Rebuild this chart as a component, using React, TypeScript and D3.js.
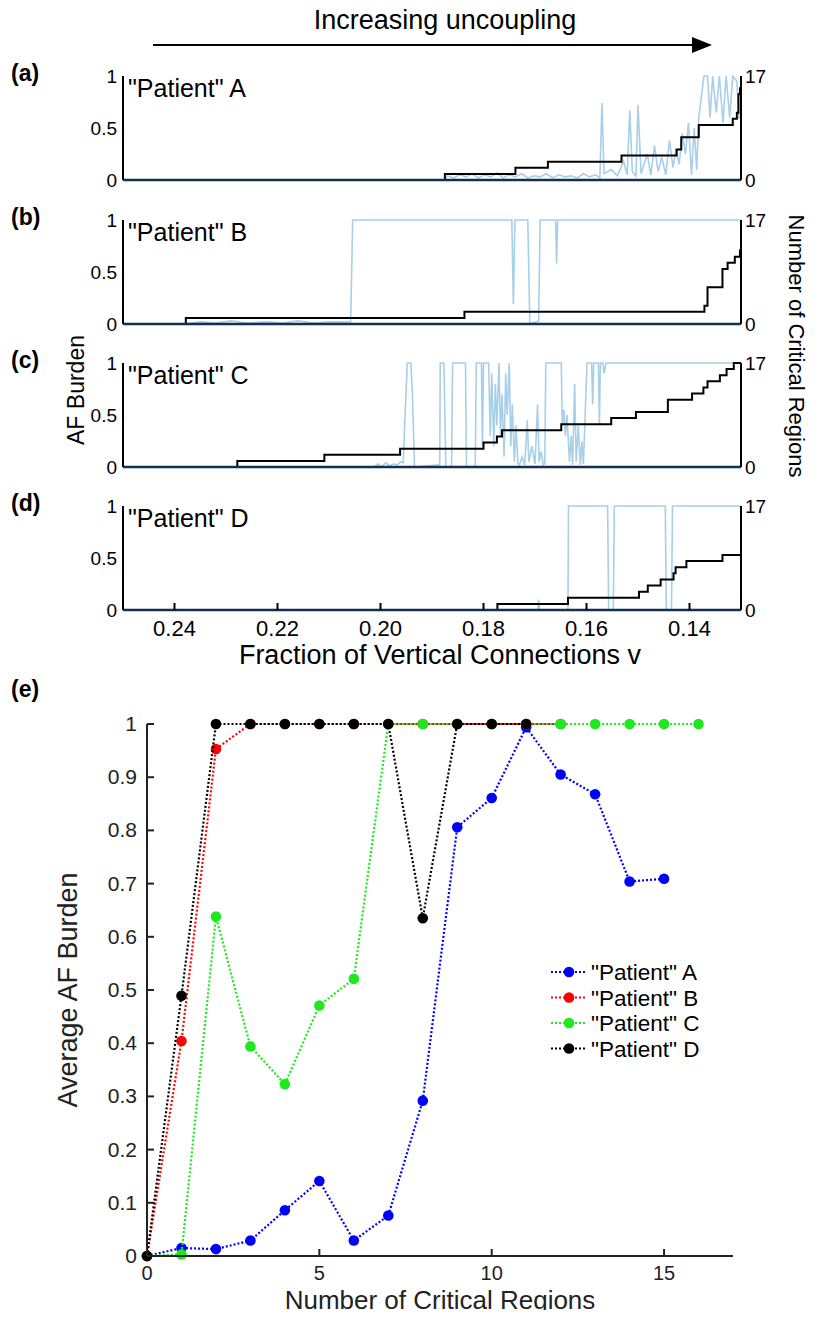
import React from "react";
import * as d3 from "d3";

// ---- data ----
const patients = ["A", "B", "C", "D"];
const panelTags = ["(a)", "(b)", "(c)", "(d)"];
const vTicks = [0.24, 0.22, 0.2, 0.18, 0.16, 0.14];
const leftTicks = [0, 0.5, 1];
const rightTicks = [0, 17];

// AF burden traces [v, burden]
const burdenA = [
  [0.25, 0], [0.1876, 0], [0.187, 0.04], [0.1858, 0.02], [0.1846, 0.05], [0.1834, 0.03], [0.1822, 0.06],
  [0.181, 0.02], [0.1798, 0.05], [0.1786, 0.03], [0.1774, 0.07], [0.1762, 0.02], [0.175, 0.05], [0.1738, 0.03],
  [0.1726, 0.06], [0.1714, 0.02], [0.1702, 0.04], [0.169, 0.03], [0.1678, 0.06], [0.1666, 0.02], [0.1654, 0.05],
  [0.1642, 0.03], [0.163, 0.04], [0.1618, 0.02], [0.1606, 0.06], [0.1594, 0.03], [0.1582, 0.05], [0.1574, 0.02],
  [0.157, 0.74], [0.1566, 0.06], [0.1552, 0.1], [0.154, 0.04], [0.1528, 0.18], [0.1521, 0.05], [0.1516, 0.67],
  [0.1511, 0.08], [0.1504, 0.04], [0.15, 0.72], [0.1494, 0.06], [0.1482, 0.25], [0.1475, 0.05], [0.1468, 0.33],
  [0.1461, 0.08], [0.1454, 0.22], [0.1446, 0.05], [0.1439, 0.38], [0.1432, 0.12], [0.1426, 0.3], [0.142, 0.15],
  [0.1414, 0.45], [0.1408, 0.25], [0.1402, 0.55], [0.1396, 0.05], [0.1391, 0.5], [0.1386, 0.1], [0.1382, 0.6],
  [0.1377, 0.8], [0.1372, 1], [0.1365, 1], [0.136, 0.6], [0.1355, 1], [0.1348, 0.65], [0.1342, 1], [0.1335, 0.55],
  [0.1329, 1], [0.1322, 0.6], [0.1316, 1], [0.1308, 0.95], [0.1304, 0.6], [0.13, 0.62],
];
const burdenB = [
  [0.25, 0], [0.238, 0], [0.235, 0.02], [0.232, 0.01], [0.229, 0.03], [0.226, 0.01], [0.222, 0.02], [0.219, 0.01],
  [0.216, 0.03], [0.213, 0.01], [0.21, 0.02], [0.2058, 0.02], [0.2054, 1], [0.1745, 1], [0.1742, 0.19],
  [0.1739, 1], [0.1714, 1], [0.171, 0], [0.1693, 0.03], [0.169, 1], [0.166, 1], [0.1658, 0.58], [0.1656, 1],
  [0.13, 1],
];
const burdenC = [
  [0.25, 0], [0.2012, 0], [0.2005, 0.03], [0.1998, 0], [0.199, 0.04], [0.1982, 0.01], [0.1975, 0.03],
  [0.1968, 0.02], [0.196, 0.05], [0.1956, 0.04], [0.1948, 1], [0.1941, 1], [0.1938, 0.7], [0.1934, 0],
  [0.1885, 0.02], [0.1884, 1], [0.1877, 1], [0.1875, 0.5], [0.1873, 0], [0.1862, 0], [0.186, 1], [0.1835, 1],
  [0.1833, 0], [0.1816, 0], [0.1814, 1], [0.1804, 1], [0.1802, 0.2], [0.18, 1], [0.179, 1], [0.1787, 0.3],
  [0.1784, 0.9], [0.178, 0.2], [0.1777, 0.8], [0.1774, 0.4], [0.177, 1], [0.1767, 0.3], [0.1764, 0.7],
  [0.176, 0.1], [0.1757, 0.9], [0.1754, 0.5], [0.175, 1], [0.1747, 0.2], [0.1744, 0.6], [0.174, 0.05],
  [0.1737, 0.4], [0.1733, 0.03], [0.173, 0.02], [0.1725, 0.1], [0.172, 0.02], [0.1715, 0.45], [0.1712, 0.05],
  [0.1706, 0.2], [0.17, 0.03], [0.1695, 0.6], [0.1692, 0.05], [0.1688, 0.15], [0.1684, 0.02], [0.1681, 0.03],
  [0.1679, 1], [0.1649, 1], [0.1647, 0.4], [0.1644, 0.55], [0.1641, 0.3], [0.1638, 0.5], [0.1633, 0.05],
  [0.163, 0.3], [0.1627, 0.02], [0.1623, 0.8], [0.162, 0.05], [0.1616, 0.4], [0.1612, 0.02], [0.1609, 0.25],
  [0.1606, 0.03], [0.1599, 1], [0.159, 1], [0.1588, 0.6], [0.1586, 1], [0.1577, 1], [0.1575, 0.4], [0.1573, 1],
  [0.1568, 1], [0.1566, 0.9], [0.1562, 1], [0.13, 1],
];
const burdenD = [
  [0.25, 0], [0.1695, 0], [0.1693, 0.1], [0.1691, 0], [0.1636, 0], [0.1635, 1], [0.1559, 1], [0.1557, 0],
  [0.1548, 0], [0.1546, 1], [0.1447, 1], [0.1445, 0], [0.1435, 0], [0.1433, 1], [0.13, 1],
];

// number of critical regions, steps [v, count]
const regionsA = [
  [0.25, 0], [0.1875, 1], [0.1738, 2], [0.1675, 3], [0.1532, 4], [0.1425, 5], [0.1416, 7], [0.1382, 9],
  [0.1316, 10], [0.1308, 11], [0.1305, 14], [0.1302, 15], [0.13, 15],
];
const regionsB = [
  [0.25, 0], [0.2378, 1], [0.1837, 2], [0.1371, 3], [0.1365, 6], [0.1336, 9], [0.1326, 10], [0.1312, 11],
  [0.1302, 12], [0.13, 12],
];
const regionsC = [
  [0.25, 0], [0.2278, 1], [0.2109, 2], [0.1962, 3], [0.18, 4], [0.1774, 5], [0.1764, 6], [0.1649, 7],
  [0.1552, 8], [0.1504, 9], [0.1442, 11], [0.1395, 12], [0.1373, 13], [0.1365, 14], [0.1341, 15],
  [0.1328, 16], [0.1314, 17], [0.13, 17],
];
const regionsD = [
  [0.25, 0], [0.1773, 1], [0.1636, 2], [0.1498, 3], [0.1481, 4], [0.1456, 5], [0.1431, 6], [0.1427, 7],
  [0.1406, 8], [0.1336, 9], [0.13, 9],
];

const burdens = [burdenA, burdenB, burdenC, burdenD];
const regions = [regionsA, regionsB, regionsC, regionsD];

// panel (e): average AF burden vs number of critical regions
const avgA = [0, 0.015, 0.013, 0.029, 0.086, 0.141, 0.029, 0.076, 0.292, 0.806, 0.861, 0.994, 0.905, 0.868, 0.704, 0.709];
const avgB = [0, 0.404, 0.953, 1, 1, 1, 1, 1, 1, 1, 1, 1, 1];
const avgC = [0, 0.003, 0.638, 0.394, 0.323, 0.471, 0.521, 1, 1, 1, 1, 1, 1, 1, 1, 1, 1];
const avgD = [0, 0.489, 1, 1, 1, 1, 1, 1, 0.635, 1, 1, 1];
const avgSeries = [avgA, avgB, avgC, avgD];
const seriesColors = ["#0000ff", "#ff0000", "#1ee81e", "#000000"];
const eXTicks = [0, 5, 10, 15];
const eYTicks = [0, 0.1, 0.2, 0.3, 0.4, 0.5, 0.6, 0.7, 0.8, 0.9, 1];

const FONT = "'Liberation Sans', Arial, Helvetica, sans-serif";
const W = 819;
const H = 1318;

const App = () => {
  const x = d3.scaleLinear().domain([0.25, 0.13]).range([123, 741]);
  const tops = [76, 220, 363, 506];
  const ph = 104;

  const ex = d3.scaleLinear().domain([0, 17]).range([147, 733]);
  const ey = d3.scaleLinear().domain([0, 1]).range([1256, 724]);
  const eLine = d3
    .line<number>()
    .x((d, i) => ex(i))
    .y((d) => ey(d));

  return (
    <svg width={W} height={H} style={{ display: "block", margin: "-8px", background: "#fff" }} fontFamily={FONT}>
      {/* title arrow */}
      <text x={445} y={29} fontSize={27} textAnchor="middle">Increasing uncoupling</text>
      <line x1={153} y1={45} x2={695} y2={45} stroke="#000" strokeWidth={2} />
      <path d="M692,37 L712,45 L692,53 z" fill="#000" />

      {patients.map((p, i) => {
        const top = tops[i];
        const bottom = top + ph;
        const yB = d3.scaleLinear().domain([0, 1]).range([bottom, top]);
        const yC = d3.scaleLinear().domain([0, 17]).range([bottom, top]);
        const bLine = d3.line<number[]>().x((d) => x(d[0])).y((d) => yB(d[1]));
        const cLine = d3
          .line<number[]>()
          .curve(d3.curveStepAfter)
          .x((d) => x(d[0]))
          .y((d) => yC(d[1]));
        return (
          <g key={p}>
            <text x={11} y={top + 5} fontSize={23} fontWeight="bold">{panelTags[i]}</text>
            <path d={bLine(burdens[i]) || ""} fill="none" stroke="#a8cfea" strokeWidth={1.6} />
            <path d={cLine(regions[i]) || ""} fill="none" stroke="#000" strokeWidth={2} />
            <line x1={x.range()[0]} x2={x.range()[1]} y1={bottom} y2={bottom} stroke="#13304c" strokeWidth={2.5} />
            <line x1={x.range()[0]} x2={x.range()[0]} y1={top} y2={bottom} stroke="#000" strokeWidth={2} />
            <line x1={x.range()[1]} x2={x.range()[1]} y1={top} y2={bottom} stroke="#000" strokeWidth={2} />
            {leftTicks.map((t) => (
              <text key={t} x={117} y={yB(t) + 7} fontSize={19} textAnchor="end">{t}</text>
            ))}
            {rightTicks.map((t) => (
              <text key={t} x={745} y={yC(t) + 7} fontSize={19}>{t}</text>
            ))}
            <text x={128} y={top + 21} fontSize={25}>"Patient" {p}</text>
            {i === 3 &&
              vTicks.map((t) => (
                <g key={t}>
                  <line x1={x(t)} x2={x(t)} y1={bottom} y2={bottom - 7} stroke="#000" strokeWidth={2} />
                  <text x={x(t)} y={bottom + 26} fontSize={22} textAnchor="middle">{t.toFixed(2)}</text>
                </g>
              ))}
          </g>
        );
      })}

      <text x={440} y={664} fontSize={27} textAnchor="middle">Fraction of Vertical Connections  v</text>
      <text transform="translate(84,390) rotate(-90)" fontSize={23} textAnchor="middle">AF Burden</text>
      <text transform="translate(789,346) rotate(90)" fontSize={22} textAnchor="middle">Number of Critical Regions</text>

      {/* panel (e) */}
      <text x={11} y={697} fontSize={23} fontWeight="bold">(e)</text>
      {avgSeries.map((s, k) => (
        <g key={k}>
          <path d={eLine(s) || ""} fill="none" stroke={seriesColors[k]} strokeWidth={2.2} strokeDasharray="2,2" />
          {s.map((v, i) => (
            <circle key={i} cx={ex(i)} cy={ey(v)} r={5.3} fill={seriesColors[k]} />
          ))}
        </g>
      ))}
      <line x1={ex(0)} x2={ex(17)} y1={ey(0)} y2={ey(0)} stroke="#222" strokeWidth={2} />
      <line x1={ex(0)} x2={ex(0)} y1={ey(0)} y2={ey(1)} stroke="#222" strokeWidth={2} />
      {eYTicks.map((t) => (
        <g key={t}>
          <line x1={ex(0)} x2={ex(0) + 7} y1={ey(t)} y2={ey(t)} stroke="#222" strokeWidth={2} />
          <text x={137} y={ey(t) + 7} fontSize={21} textAnchor="end" fill="#222">{d3.format("~g")(t)}</text>
        </g>
      ))}
      {eXTicks.map((t) => (
        <g key={t}>
          <line x1={ex(t)} x2={ex(t)} y1={ey(0)} y2={ey(0) - 7} stroke="#222" strokeWidth={2} />
          <text x={ex(t)} y={1280} fontSize={20} textAnchor="middle" fill="#222">{t}</text>
        </g>
      ))}
      <text x={440} y={1309} fontSize={26} textAnchor="middle" fill="#222">Number of Critical Regions</text>
      <text transform="translate(77,990) rotate(-90)" fontSize={27} textAnchor="middle" fill="#222">Average AF Burden</text>

      {/* legend */}
      {patients.map((p, k) => {
        const ly = 972 + k * 25.5;
        return (
          <g key={p}>
            <line x1={551} x2={587} y1={ly} y2={ly} stroke={seriesColors[k]} strokeWidth={2.2} strokeDasharray="2,2" />
            <circle cx={569} cy={ly} r={5.3} fill={seriesColors[k]} />
            <text x={591} y={ly + 8} fontSize={22.5}>"Patient" {p}</text>
          </g>
        );
      })}
    </svg>
  );
};

export default App;
